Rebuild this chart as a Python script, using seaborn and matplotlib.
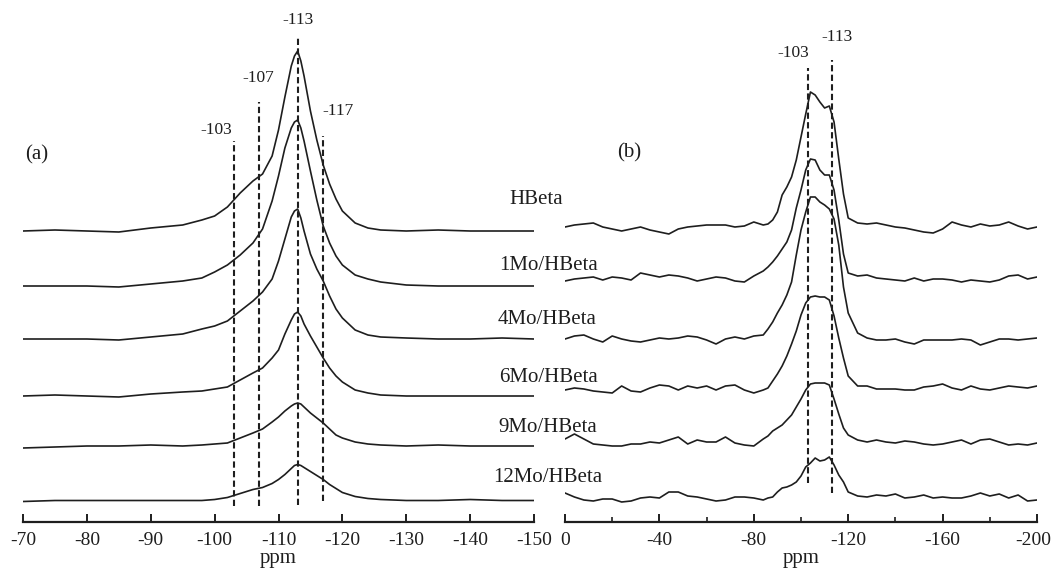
import numpy as np
import pandas as pd
import matplotlib
matplotlib.use("Agg")
import matplotlib.pyplot as plt
import matplotlib.transforms as mtransforms
import seaborn as sns

# ---- data -------------------------------------------------------------
samples = ["HBeta", "1Mo/HBeta", "4Mo/HBeta", "6Mo/HBeta", "9Mo/HBeta", "12Mo/HBeta"]

# (a) 29Si MAS NMR, chemical shift (ppm) and intensity
ppm_a = [-70, -75, -80, -85, -90, -95, -98, -100, -102, -104, -106, -107.5, -109, -110,
         -111, -112, -112.5, -113, -113.5, -114, -115, -116, -117, -118, -119, -120,
         -122, -124, -126, -130, -135, -140, -145, -150]
a_hbeta = [0, 1, 0, -1, 3, 6, 11, 15, 24, 38, 50, 57, 75, 101, 134, 165, 175, 180, 170,
           155, 120, 91, 66, 47, 32, 20, 8, 3, 1, 0, 1, 0, 0, 0]
a_1mo = [0, 0, 0, -1, 2, 5, 8, 14, 21, 31, 43, 57, 85, 110, 138, 158, 164, 166, 158,
         145, 115, 86, 60, 43, 30, 21, 11, 7, 4, 1, 0, 0, 0, 0]
a_4mo = [0, 0, 0, -1, 2, 5, 10, 13, 18, 28, 38, 47, 60, 78, 100, 122, 128, 130, 121,
         108, 85, 70, 58, 43, 30, 21, 9, 4, 2, 1, 0, 0, 1, 0]
a_6mo = [0, 1, 0, -1, 2, 4, 5, 7, 9, 16, 23, 28, 38, 46, 62, 76, 82, 84, 80,
         72, 60, 49, 38, 28, 20, 14, 6, 3, 1, 0, 0, 0, 0, 0]
a_9mo = [-2, -1, 0, 0, 1, 0, 1, 2, 3, 8, 13, 17, 24, 29, 35, 40, 42, 43, 42,
         39, 33, 28, 23, 17, 11, 8, 4, 2, 1, 0, 1, 0, 0, 0]
a_12mo = [-1, 0, 0, 0, 0, 0, 0, 1, 3, 7, 11, 13, 17, 21, 26, 32, 35, 36, 35,
          33, 29, 25, 21, 16, 12, 8, 4, 2, 1, 0, 0, 1, 0, 0]

# (b) 27Al MAS NMR
ppm_b = [0, -4, -8, -12, -16, -20, -24, -28, -32, -36, -40, -44, -48, -52, -56, -60, -64,
         -68, -72, -76, -80, -84,
         -86, -88, -90, -92, -94, -96, -98, -100, -102, -104, -106, -108, -110, -112,
         -114, -116, -118, -120,
         -124, -128, -132, -136, -140, -144, -148, -152, -156, -160, -164, -168, -172,
         -176, -180, -184, -188, -192, -196, -200]
b_hbeta = [0, 2, 3, 4, 0, -2, -4, -2, 0, -3, -5, -7, -2, 0, 1, 2, 2, 2, 0, 1, 5, 2,
           3, 7, 15, 32, 40, 50, 67, 90, 113, 135, 132, 125, 119, 121, 105, 68, 33, 9,
           4, 3, 4, 2, 0, -1, -3, -5, -6, -2, 5, 2, 0, 3, 1, 2, 5, 1, -2, 0]
b_1mo = [-3, -1, 0, 1, -2, 1, 0, -2, 5, 3, 1, 3, 2, 0, -3, -1, 1, 0, -3, -4, 2, 7,
         11, 16, 22, 29, 36, 48, 70, 88, 108, 119, 118, 108, 103, 103, 88, 58, 24, 5,
         2, 3, 0, -1, -2, -3, 0, -3, -1, -1, -2, -4, -2, -3, -4, -2, 2, 3, -1, 1]
b_4mo = [-2, 1, 2, -2, -5, 1, -2, -4, -5, -3, -1, -2, -1, 1, 0, -3, -7, -2, 0, -2, 1, 2,
         8, 15, 24, 32, 42, 55, 82, 107, 125, 140, 140, 135, 132, 128, 118, 92, 50, 24,
         4, -1, -3, -3, -2, -5, -7, -3, -3, -3, -3, -2, -3, -8, -5, -2, -2, -3, -2, -1]
b_6mo = [-2, 0, -1, -3, -4, -5, 2, -3, -4, 0, 3, 2, -2, 2, 0, 2, -2, 2, 3, -2, -5, -2,
         0, 7, 14, 22, 32, 44, 57, 73, 85, 91, 92, 91, 91, 88, 72, 50, 30, 12,
         2, 2, -1, -1, -1, -2, -2, 1, 2, 4, 0, -2, 2, -1, -2, 0, 2, 1, 0, 2]
b_9mo = [3, 8, 3, -2, -3, -4, -4, -2, -2, 0, -1, 2, 5, -2, 2, 0, 0, 5, -1, -3, -4, 3,
         6, 11, 14, 17, 22, 27, 35, 43, 52, 58, 59, 59, 59, 57, 43, 28, 14, 7,
         2, 0, 2, 0, -1, 1, 0, -2, -3, -2, 0, 2, -2, 2, 3, 0, -3, -2, -3, -1]
b_12mo = [3, -1, -4, -5, -3, -3, -6, -5, -2, -1, -2, 4, 4, 0, -1, -3, -5, -4, -1, -1, -2, -4,
          -2, -1, 4, 8, 9, 11, 14, 20, 29, 33, 38, 35, 36, 39, 31, 21, 14, 4,
          0, -1, 1, 0, 2, -2, -1, 1, -2, -1, -2, -2, 0, 3, 0, 2, -2, 1, -5, -4]

# stacking offsets of the traces
offset_a = [291, 236, 183, 126, 76, 21.5]
offset_b = [295, 244, 185, 134, 80, 26]

lines_a = [-103, -107, -113, -117]
lines_b = [-103, -113]

spectra_a = [a_hbeta, a_1mo, a_4mo, a_6mo, a_9mo, a_12mo]
spectra_b = [b_hbeta, b_1mo, b_4mo, b_6mo, b_9mo, b_12mo]

# ---- style ------------------------------------------------------------
sns.set_theme(style="ticks")
plt.rcParams["font.family"] = ["Liberation Serif", "DejaVu Serif"]
plt.rcParams["axes.unicode_minus"] = False
ink = "#1e1e1e"

W, H = 1053, 568
fig = plt.figure(figsize=(W / 100, H / 100), dpi=100)
bottom = 1 - 522 / H
height = 512 / H
ax_a = fig.add_axes([23 / W, bottom, (534 - 23) / W, height])
ax_b = fig.add_axes([565 / W, bottom, (1037 - 565) / W, height])

def frame(ax, xlim, major, minor=None):
    ax.set_xlim(*xlim)
    ax.set_ylim(0, 512)
    for s in ["left", "right", "top"]:
        ax.spines[s].set_visible(False)
    ax.spines["bottom"].set_linewidth(1.6)
    ax.spines["bottom"].set_color(ink)
    ax.set_yticks([])
    ax.set_xticks(major)
    ax.set_xticklabels([f"{int(v)}" for v in major])
    if minor is not None:
        ax.set_xticks(minor, minor=True)
    ax.tick_params(axis="x", which="major", direction="in", length=6, width=1.4,
                   colors=ink, labelsize=14, pad=7)
    ax.tick_params(axis="x", which="minor", direction="in", length=3.5, width=1.2,
                   colors=ink)
    ax.set_xlabel("ppm", fontsize=15, color=ink, labelpad=0)
    ax.set_ylabel("")
    ax.patch.set_alpha(0)

dash = (0, (3.0, 1.6))

# panel (a)
for name, vals, off in zip(samples, spectra_a, offset_a):
    df = pd.DataFrame({"ppm": ppm_a, "signal": np.asarray(vals, float) + off})
    sns.lineplot(data=df, x="ppm", y="signal", ax=ax_a, color=ink, lw=1.2, sort=False)
for v, (y0, y1) in zip(lines_a, [(16, 381), (16, 420), (17, 486), (21, 386)]):
    ax_a.plot([v, v], [y0, y1], color=ink, lw=1.5, linestyle=dash)
for txt, x, y in [("-103", -100.2, 392), ("-107", -106.9, 444),
                  ("-113", -113.0, 502), ("-117", -119.3, 411)]:
    ax_a.text(x, y, txt, ha="center", va="center", fontsize=12.5, color=ink)
ax_a.text(-72.1, 367, "(a)", ha="center", va="center", fontsize=15, color=ink)
frame(ax_a, (-70, -150), list(range(-70, -151, -10)))

# panel (b)
for name, vals, off in zip(samples, spectra_b, offset_b):
    df = pd.DataFrame({"ppm": ppm_b, "signal": np.asarray(vals, float) + off})
    sns.lineplot(data=df, x="ppm", y="signal", ax=ax_b, color=ink, lw=1.2, sort=False)
for v, (y0, y1) in zip(lines_b, [(39, 454), (29, 462)]):
    ax_b.plot([v, v], [y0, y1], color=ink, lw=1.5, linestyle=dash)
for txt, x, y in [("-103", -96.6, 469), ("-113", -115.3, 485)]:
    ax_b.text(x, y, txt, ha="center", va="center", fontsize=12.5, color=ink)
ax_b.text(-27.1, 369, "(b)", ha="center", va="center", fontsize=15, color=ink)
frame(ax_b, (0, -200), list(range(0, -201, -40)), list(range(-20, -200, -40)))

# keep the last tick label of panel (b) inside the figure
last = ax_b.get_xticklabels()[-1]
last.set_transform(last.get_transform()
                   + mtransforms.ScaledTranslation(-3 / 72, 0, fig.dpi_scale_trans))

# sample names between the two panels
for name, cx, cy in zip(samples, [536, 549, 547, 549, 548, 548], [200, 265, 320, 377, 427, 478]):
    fig.text(cx / W, 1 - cy / H, name, ha="center", va="center", fontsize=15, color=ink)

fig.savefig("out.png", dpi=100)
